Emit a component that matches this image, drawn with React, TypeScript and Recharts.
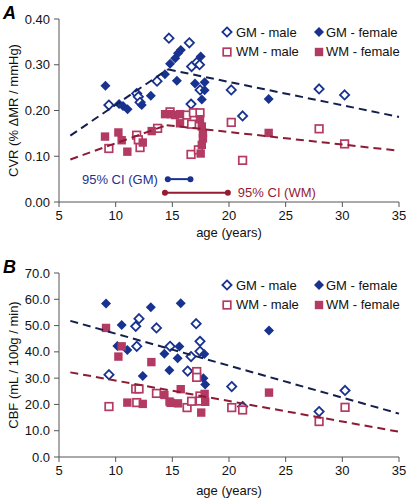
import React from 'react';
import {
  ComposedChart,
  Scatter,
  XAxis,
  YAxis,
  Legend,
} from 'recharts';

// [age, value] per subject
const cvrGmMale: [number, number][] = [
  [9.4, 0.212], [11.85, 0.237], [12.0, 0.23], [12.15, 0.218], [13.65, 0.264],
  [14.7, 0.358], [16.5, 0.348], [16.7, 0.296], [16.65, 0.214], [17.15, 0.305],
  [17.4, 0.3], [17.45, 0.245], [20.2, 0.245], [21.2, 0.188], [27.95, 0.247],
  [30.2, 0.234],
];
const cvrGmFemale: [number, number][] = [
  [9.1, 0.254], [10.3, 0.214], [10.65, 0.21], [11.05, 0.203], [12.3, 0.212],
  [13.1, 0.232], [14.35, 0.279], [14.8, 0.302], [15.25, 0.314], [15.5, 0.325],
  [15.75, 0.332], [15.4, 0.265], [17.0, 0.259], [17.85, 0.262], [17.5, 0.318],
  [17.85, 0.244], [17.6, 0.224], [23.5, 0.225],
];
const cvrWmMale: [number, number][] = [
  [9.4, 0.117], [11.85, 0.146], [12.0, 0.136], [12.15, 0.119], [13.7, 0.161],
  [14.8, 0.197], [16.27, 0.19], [16.86, 0.195], [17.44, 0.195], [16.7, 0.17],
  [16.65, 0.104], [17.3, 0.114], [20.2, 0.174], [21.2, 0.091], [27.95, 0.16],
  [30.2, 0.127],
];
const cvrWmFemale: [number, number][] = [
  [9.06, 0.143], [10.24, 0.152], [10.53, 0.135], [11.03, 0.11], [12.39, 0.13],
  [13.18, 0.155], [14.36, 0.192], [14.86, 0.192], [15.24, 0.19], [15.68, 0.192],
  [15.68, 0.172], [17.44, 0.181], [17.6, 0.165], [17.7, 0.15], [17.7, 0.139],
  [17.6, 0.125], [17.5, 0.106], [23.5, 0.151],
];

const cbfGmMale: [number, number][] = [
  [9.41, 31.3], [11.77, 49.7], [12.06, 52.6], [11.86, 42.1], [13.6, 49.1],
  [14.8, 42.1], [16.35, 32.7], [16.65, 38.2], [17.1, 50.7], [17.44, 44.0],
  [17.44, 40.2], [20.24, 26.8], [21.2, 19.2], [27.95, 17.3], [30.24, 25.3],
];
const cbfGmFemale: [number, number][] = [
  [9.15, 58.4], [10.53, 50.2], [10.15, 42.2], [11.03, 40.7], [12.39, 30.8],
  [13.1, 57.0], [14.3, 39.3], [14.74, 33.0], [15.74, 58.5], [15.47, 37.6],
  [15.62, 42.0], [17.82, 39.2], [17.74, 30.0], [17.9, 27.6], [23.53, 48.1],
];
const cbfWmMale: [number, number][] = [
  [9.41, 19.2], [11.77, 25.9], [12.06, 25.9], [11.86, 20.7], [13.6, 24.2],
  [16.3, 18.8], [16.7, 21.2], [17.15, 32.5], [17.15, 30.3], [17.44, 23.2],
  [17.44, 21.3], [20.24, 18.8], [21.2, 17.9], [27.95, 13.5], [30.24, 18.9],
];
const cbfWmFemale: [number, number][] = [
  [9.15, 49.1], [10.53, 42.1], [10.24, 38.2], [11.03, 20.7], [12.39, 20.2],
  [13.15, 36.1], [14.3, 23.6], [14.75, 21.1], [14.85, 20.6], [15.5, 20.4],
  [15.74, 25.8], [17.85, 24.0], [17.9, 21.0], [17.55, 16.9], [23.53, 24.5],
];

// regression lines (end points)
const cvrGmRise: [number, number][] = [[6, 0.145], [14.6, 0.29]];
const cvrGmFall: [number, number][] = [[14.6, 0.29], [35, 0.186]];
const cvrWmRise: [number, number][] = [[6, 0.093], [14.5, 0.168]];
const cvrWmFall: [number, number][] = [[14.5, 0.168], [35, 0.112]];
const cbfGmFit: [number, number][] = [[6, 51.8], [35, 16.5]];
const cbfWmFit: [number, number][] = [[6, 32.2], [35, 9.6]];

// 95% CI of breakpoint age
const ciGm: [number, number][] = [[14.6, 0.05], [16.6, 0.05]];
const ciWm: [number, number][] = [[14.35, 0.02], [19.9, 0.02]];

const xTicks = [5, 10, 15, 20, 25, 30, 35];
const cvrTicks = [0, 0.1, 0.2, 0.3, 0.4];
const cbfTicks = [0, 10, 20, 30, 40, 50, 60, 70];

const FONT = '"Liberation Sans", Arial, Helvetica, sans-serif';
const GM = '#17338f';
const WM = '#b33a62';
const GM_FIT = '#131f4c';
const WM_FIT = '#8c1b35';
const GM_CI = '#1a3390';
const WM_CI = '#961b34';
const AXIS = '#555';

const pts = (d: [number, number][]) => d.map(([x, y]) => ({ x, y }));

const diamond = (color: string, filled: boolean) => (p: any) => {
  const r = filled ? 5 : 4.6;
  const { cx, cy } = p;
  return (
    <path
      d={`M${cx},${cy - r}L${cx + r},${cy}L${cx},${cy + r}L${cx - r},${cy}Z`}
      fill={filled ? color : '#fff'}
      stroke={color}
      strokeWidth={filled ? 0 : 1.8}
    />
  );
};

const square = (color: string, filled: boolean) => (p: any) => {
  const h = filled ? 4.2 : 3.8;
  return (
    <rect
      x={p.cx - h}
      y={p.cy - h}
      width={h * 2}
      height={h * 2}
      fill={filled ? color : '#fff'}
      stroke={color}
      strokeWidth={filled ? 0 : 1.7}
    />
  );
};

const noDot = () => <g />;

const ciDot = (color: string, text: string, side: 'left' | 'right', at: number) => (p: any) => (
  <g>
    <circle cx={p.cx} cy={p.cy} r={3} fill={color} />
    {p.payload.x === at && (
      <text
        x={side === 'left' ? p.cx - 10 : p.cx + 10}
        y={p.cy}
        dy="0.35em"
        textAnchor={side === 'left' ? 'end' : 'start'}
        fontSize={13}
        fontFamily={FONT}
        fill={color}
      >
        {text}
      </text>
    )}
  </g>
);

const legendItems = [
  { name: 'GM - male', kind: 'diamond', filled: false, color: GM, col: 0, row: 0 },
  { name: 'GM - female', kind: 'diamond', filled: true, color: GM, col: 1, row: 0 },
  { name: 'WM - male', kind: 'square', filled: false, color: WM, col: 0, row: 1 },
  { name: 'WM - female', kind: 'square', filled: true, color: WM, col: 1, row: 1 },
];

const LegendBox = ({ top }: { top: number }) => (
  <div style={{ position: 'relative', width: 408, height: 0, fontFamily: FONT }}>
    {legendItems.map((it) => (
      <div
        key={it.name}
        style={{
          position: 'absolute',
          left: it.col === 0 ? 221 : 313,
          top: top + it.row * 19.5 - 9,
          height: 18,
          display: 'flex',
          alignItems: 'center',
          whiteSpace: 'nowrap',
          fontSize: 13,
          color: '#111',
        }}
      >
        <svg width={12} height={12} style={{ display: 'block' }}>
          {it.kind === 'diamond'
            ? diamond(it.color, it.filled)({ cx: 6, cy: 6 })
            : square(it.color, it.filled)({ cx: 6, cy: 6 })}
        </svg>
        <span style={{ marginLeft: it.col === 0 ? 3 : 1 }}>{it.name}</span>
      </div>
    ))}
  </div>
);

const tickStyle = { fontSize: 13, fill: '#111', fontFamily: FONT };

const dash = (color: string) => ({ stroke: color, strokeWidth: 2, strokeDasharray: '8 5' });

const App: React.FC = () => {
  return (
    <div
      style={{
        position: 'absolute',
        left: 0,
        top: 0,
        width: 408,
        height: 498,
        background: '#fff',
        fontFamily: FONT,
      }}
    >
      <div style={{ position: 'absolute', left: 3, top: 4, fontSize: 18, lineHeight: '18px', fontWeight: 'bold', fontStyle: 'italic' }}>A</div>
      <div style={{ position: 'absolute', left: 3, top: 258, fontSize: 18, lineHeight: '18px', fontWeight: 'bold', fontStyle: 'italic' }}>B</div>

      <div style={{ position: 'absolute', left: 0, top: 0 }}>
        <ComposedChart width={408} height={240} margin={{ top: 19, right: 9, bottom: 0, left: 0 }}>
          <XAxis
            type="number"
            dataKey="x"
            domain={[5, 35]}
            ticks={xTicks}
            height={38}
            tickSize={5}
            tickMargin={4}
            tick={tickStyle}
            axisLine={{ stroke: AXIS }}
            tickLine={{ stroke: AXIS }}
            label={{ value: 'age (years)', position: 'insideBottom', offset: 3, style: { fontSize: 13, fill: '#111', fontFamily: FONT } }}
          />
          <YAxis
            type="number"
            dataKey="y"
            domain={[0, 0.4]}
            ticks={cvrTicks}
            width={59}
            tickSize={5}
            tickMargin={4}
            tick={tickStyle}
            tickFormatter={(v: number) => v.toFixed(2)}
            axisLine={{ stroke: AXIS }}
            tickLine={{ stroke: AXIS }}
            label={{ value: 'CVR (% \u0394MR / mmHg)', angle: -90, position: 'insideLeft', offset: 13, style: { textAnchor: 'middle', fontSize: 13, fill: '#111', fontFamily: FONT } }}
          />
          <Legend content={() => <LegendBox top={32} />} wrapperStyle={{ position: 'absolute', left: 0, top: 0, width: 408, height: 0, margin: 0 }} />
          <Scatter name="GM - male" data={pts(cvrGmMale)} fill={GM} shape={diamond(GM, false)} isAnimationActive={false} />
          <Scatter name="GM - female" data={pts(cvrGmFemale)} fill={GM} shape={diamond(GM, true)} isAnimationActive={false} />
          <Scatter name="WM - male" data={pts(cvrWmMale)} fill={WM} shape={square(WM, false)} isAnimationActive={false} />
          <Scatter name="WM - female" data={pts(cvrWmFemale)} fill={WM} shape={square(WM, true)} isAnimationActive={false} />
          <Scatter data={pts(cvrGmRise)} fill={GM_FIT} line={dash(GM_FIT)} shape={noDot} legendType="none" isAnimationActive={false} />
          <Scatter data={pts(cvrGmFall)} fill={GM_FIT} line={dash(GM_FIT)} shape={noDot} legendType="none" isAnimationActive={false} />
          <Scatter data={pts(cvrWmRise)} fill={WM_FIT} line={dash(WM_FIT)} shape={noDot} legendType="none" isAnimationActive={false} />
          <Scatter data={pts(cvrWmFall)} fill={WM_FIT} line={dash(WM_FIT)} shape={noDot} legendType="none" isAnimationActive={false} />
          <Scatter data={pts(ciGm)} fill={GM_CI} line={{ stroke: GM_CI, strokeWidth: 2 }} shape={ciDot(GM_CI, '95% CI (GM)', 'left', ciGm[0][0])} legendType="none" isAnimationActive={false} />
          <Scatter data={pts(ciWm)} fill={WM_CI} line={{ stroke: WM_CI, strokeWidth: 2 }} shape={ciDot(WM_CI, '95% CI (WM)', 'right', ciWm[1][0])} legendType="none" isAnimationActive={false} />
        </ComposedChart>
      </div>

      <div style={{ position: 'absolute', left: 0, top: 240 }}>
        <ComposedChart width={408} height={258} margin={{ top: 33, right: 9, bottom: 0, left: 0 }}>
          <XAxis
            type="number"
            dataKey="x"
            domain={[5, 35]}
            ticks={xTicks}
            height={41}
            tickSize={5}
            tickMargin={4}
            tick={tickStyle}
            axisLine={{ stroke: AXIS }}
            tickLine={{ stroke: AXIS }}
            label={{ value: 'age (years)', position: 'insideBottom', offset: 3, style: { fontSize: 13, fill: '#111', fontFamily: FONT } }}
          />
          <YAxis
            type="number"
            dataKey="y"
            domain={[0, 70]}
            ticks={cbfTicks}
            width={59}
            tickSize={5}
            tickMargin={4}
            tick={tickStyle}
            tickFormatter={(v: number) => v.toFixed(1)}
            axisLine={{ stroke: AXIS }}
            tickLine={{ stroke: AXIS }}
            label={{ value: 'CBF (mL / 100g / min)', angle: -90, position: 'insideLeft', offset: 13, style: { textAnchor: 'middle', fontSize: 13, fill: '#111', fontFamily: FONT } }}
          />
          <Legend content={() => <LegendBox top={45} />} wrapperStyle={{ position: 'absolute', left: 0, top: 0, width: 408, height: 0, margin: 0 }} />
          <Scatter name="GM - male" data={pts(cbfGmMale)} fill={GM} shape={diamond(GM, false)} isAnimationActive={false} />
          <Scatter name="GM - female" data={pts(cbfGmFemale)} fill={GM} shape={diamond(GM, true)} isAnimationActive={false} />
          <Scatter name="WM - male" data={pts(cbfWmMale)} fill={WM} shape={square(WM, false)} isAnimationActive={false} />
          <Scatter name="WM - female" data={pts(cbfWmFemale)} fill={WM} shape={square(WM, true)} isAnimationActive={false} />
          <Scatter data={pts(cbfGmFit)} fill={GM_FIT} line={dash(GM_FIT)} shape={noDot} legendType="none" isAnimationActive={false} />
          <Scatter data={pts(cbfWmFit)} fill={WM_FIT} line={dash(WM_FIT)} shape={noDot} legendType="none" isAnimationActive={false} />
        </ComposedChart>
      </div>
    </div>
  );
};

export default App;
